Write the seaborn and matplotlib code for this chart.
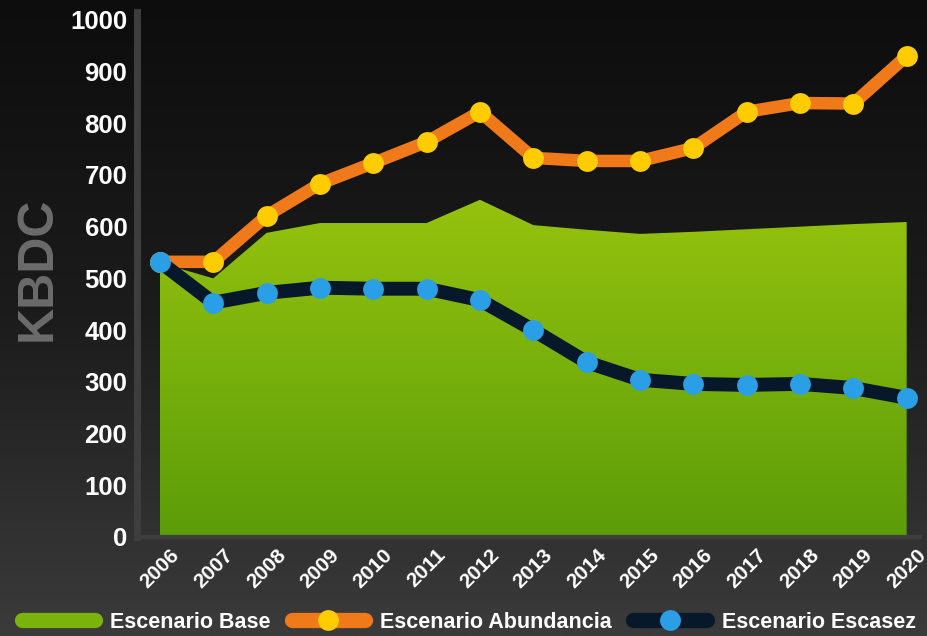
import numpy as np
import pandas as pd
import matplotlib
matplotlib.use("Agg")
import matplotlib.pyplot as plt
from matplotlib.lines import Line2D
import seaborn as sns

sns.set_style("dark")
plt.rcParams['font.family'] = ['Liberation Sans', 'DejaVu Sans']

years = list(range(2006, 2021))
base = [530, 500, 588, 607, 607, 607, 652, 603, 594, 586, 590, 595, 600, 605, 609]
abundancia = [532, 532, 621, 683, 723, 764, 822, 733, 727, 727, 752, 822, 839, 838, 930]
escasez = [532, 453, 472, 482, 480, 480, 458, 400, 338, 304, 296, 294, 296, 288, 269]
yticks = list(range(0, 1001, 100))

df = pd.DataFrame({"year": years, "base": base, "abund": abundancia, "esc": escasez})

fig = plt.figure(figsize=(9.28, 6.36), dpi=100)

# background gradient
bg = fig.add_axes([0, 0, 1, 1], zorder=-10)
grad = np.linspace(0, 1, 256).reshape(-1, 1)
cmap_bg = matplotlib.colors.LinearSegmentedColormap.from_list("bg", ["#0d0d0d", "#1c1c1c", "#3b3b3b"])
bg.imshow(grad, aspect="auto", cmap=cmap_bg, extent=[0, 1, 0, 1], origin="upper")
bg.axis("off")

ax = fig.add_axes([137 / 928, 1 - 537 / 636, 783 / 928, 525 / 636])
ax.set_facecolor("none")

# green area with vertical gradient
poly = ax.fill_between(df["year"], 0, df["base"], color="none", lw=0, zorder=1)
cmap_g = matplotlib.colors.LinearSegmentedColormap.from_list("g", ["#5c9c08", "#78b00c", "#96c20e"])
img = ax.imshow(np.linspace(0, 1, 256).reshape(-1, 1), cmap=cmap_g, aspect="auto",
                extent=[years[0], years[-1], 0, max(base)], origin="lower", zorder=1)
img.set_clip_path(poly.get_paths()[0], transform=ax.transData)

sns.lineplot(data=df, x="year", y="abund", ax=ax, color="#f07a1a", lw=9,
             marker="o", markersize=15, markerfacecolor="#ffcc00", markeredgewidth=0,
             zorder=3, solid_capstyle="round")
sns.lineplot(data=df, x="year", y="esc", ax=ax, color="#06182a", lw=10,
             marker="o", markersize=15, markerfacecolor="#2a9fe6", markeredgewidth=0,
             zorder=4, solid_capstyle="round")

ax.set_xlim(2005.57, 2020.25)
ax.set_ylim(0, 1015)
ax.set_yticks(yticks)
ax.set_xticks(years)
ax.grid(False)
ax.tick_params(axis="y", colors="white", labelsize=18.5, length=0, pad=7)
ax.tick_params(axis="x", colors="white", labelsize=15, length=0, pad=6)
for t in ax.get_yticklabels():
    t.set_fontweight("bold")
for t in ax.get_xticklabels():
    t.set_fontweight("bold")
    t.set_rotation(45)
    t.set_ha("center")

ax.set_xlabel("")
ax.set_ylabel("KBDC", color="#6b6b6b", fontsize=36, fontweight="bold")
ax.yaxis.set_label_coords(-0.097, 0.51)

for s in ["top", "right"]:
    ax.spines[s].set_visible(False)
ax.spines["left"].set_color("#3e3e3e")
ax.spines["left"].set_linewidth(5)
ax.spines["bottom"].set_color("#3e3e3e")
ax.spines["bottom"].set_linewidth(3)

handles = [
    Line2D([], [], color="#7ab30c", lw=11, solid_capstyle="round"),
    Line2D([], [], color="#f07a1a", lw=11, marker="o", markersize=15,
           markerfacecolor="#ffcc00", markeredgewidth=0, markevery=[1], solid_capstyle="round"),
    Line2D([], [], color="#06182a", lw=11, marker="o", markersize=15,
           markerfacecolor="#2a9fe6", markeredgewidth=0, markevery=[1], solid_capstyle="round"),
]
for h in handles:
    h.set_data([0, 0.5, 1], [0, 0, 0])
leg = fig.legend(handles, ["Escenario Base", "Escenario Abundancia", "Escenario Escasez"],
                 loc="center", bbox_to_anchor=(0.505, 0.022), ncol=3, frameon=False,
                 fontsize=15.5, handlelength=3.4, handletextpad=0.7, columnspacing=1.0)
for t in leg.get_texts():
    t.set_color("white")
    t.set_fontweight("bold")

fig.savefig("out.png", dpi=100)
